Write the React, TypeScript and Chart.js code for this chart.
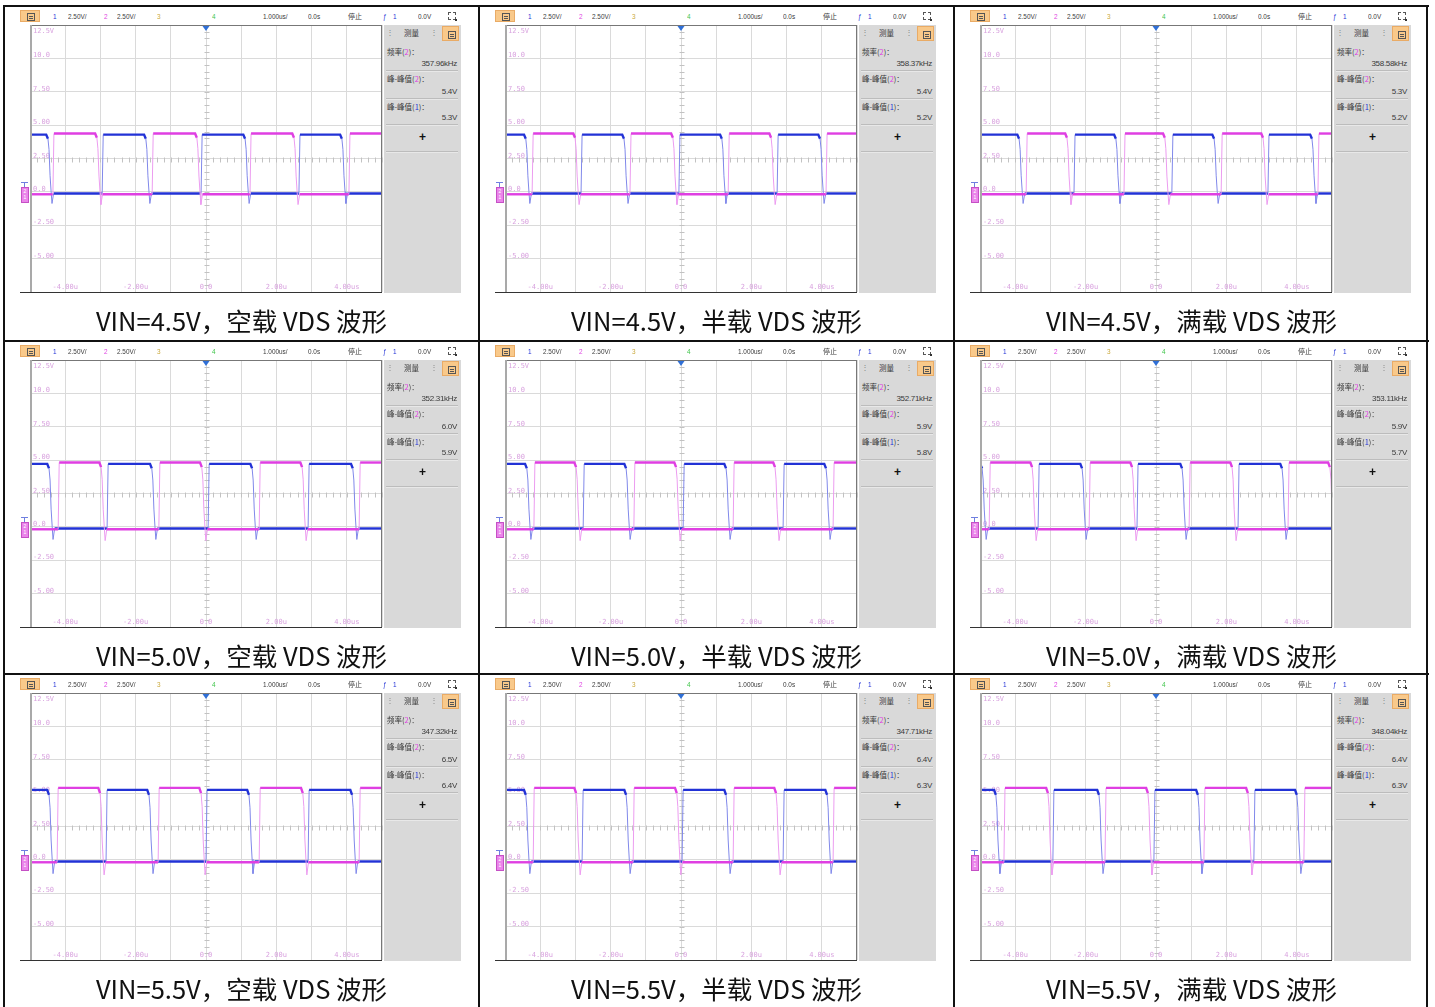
import React, { useEffect, useRef } from "react";
import { Chart, registerables } from "chart.js";

Chart.register(...registerables);

// ---------------- data ----------------
const VIN_LEVELS = ["4.5V", "5.0V", "5.5V"];
const LOAD_NAMES = ["空载", "半载", "满载"];

const FREQ_2 = ["357.96kHz", "358.37kHz", "358.58kHz", "352.31kHz", "352.71kHz", "353.11kHz", "347.32kHz", "347.71kHz", "348.04kHz"];
const VPP_2 = ["5.4V", "5.4V", "5.3V", "6.0V", "5.9V", "5.9V", "6.5V", "6.4V", "6.4V"];
const VPP_1 = ["5.3V", "5.2V", "5.2V", "5.9V", "5.8V", "5.7V", "6.4V", "6.3V", "6.3V"];

const X_TICKS = [-4, -2, 0, 2, 4];
const X_TICK_LABELS = ["-4.00u", "-2.00u", "0.0", "2.00u", "4.00us"];
const Y_TICKS = [12.5, 10, 7.5, 5, 2.5, 0, -2.5, -5];
const Y_TICK_LABELS = ["12.5V", "10.0", "7.50", "5.00", "2.50", "0.0", "-2.50", "-5.00"];

// high / low levels (V) per input voltage row
const HIGH_BLUE = [4.29, 4.72, 5.24];
const HIGH_MAG = [4.37, 4.82, 5.39];
const LOW_BLUE = -0.12;
const LOW_MAG = -0.18;

// channel 1 (blue) high intervals [rise, fall] in us, per panel
const BLUE_ON = [
  [[-5, -4.46], [-2.95, -1.68], [-0.14, 1.14], [2.64, 3.89]],
  [[-5, -4.38], [-2.84, -1.59], [-0.06, 1.19], [2.73, 3.98]],
  [[-5, -3.86], [-2.33, -1.11], [0.45, 1.68], [3.18, 4.46]],
  [[-5, -4.43], [-2.81, -1.51], [0.06, 1.34], [2.9, 4.2]],
  [[-5, -4.35], [-2.78, -1.53], [0.06, 1.31], [2.9, 4.15]],
  [[-5, -4.91], [-3.35, -2.07], [-0.54, 0.77], [2.33, 3.61]],
  [[-5, -4.43], [-2.84, -1.59], [0, 1.25], [2.9, 4.18]],
  [[-5, -4.38], [-2.81, -1.53], [0.03, 1.31], [2.9, 4.18]],
  [[-5, -4.52], [-2.93, -1.59], [-0.06, 1.22], [2.78, 4.03]],
];

// channel 2 (magenta) high intervals [rise, fall] in us, per panel
const MAG_ON = [
  [[-4.35, -3.07], [-1.53, -0.23], [1.25, 2.53], [4.06, 5]],
  [[-4.23, -2.98], [-1.45, -0.2], [1.34, 2.59], [4.12, 5]],
  [[-3.69, -2.5], [-0.91, 0.28], [1.85, 3.07], [4.6, 5]],
  [[-4.2, -2.95], [-1.34, -0.09], [1.51, 2.76], [4.35, 5]],
  [[-4.18, -2.95], [-1.34, -0.11], [1.48, 2.7], [4.32, 5]],
  [[-4.74, -3.49], [-1.9, -0.65], [0.94, 2.19], [3.75, 4.97]],
  [[-4.23, -2.98], [-1.36, -0.11], [1.51, 2.78], [4.35, 5]],
  [[-4.2, -2.95], [-1.36, -0.09], [1.48, 2.73], [4.32, 5]],
  [[-4.32, -3.04], [-1.45, -0.2], [1.36, 2.64], [4.2, 5]],
];

// edge shapes: [time offset us, fraction of swing]
const RISE_SHAPE = [[0, 0], [0.03, 1]];
const FALL_SHAPE = [[-0.08, 1], [-0.03, 0.93], [0, 0.75], [0.03, 0.3], [0.06, 0.03], [0.085, -0.17], [0.13, 0]];

// ---------------- layout / style ----------------
const COL_X = [4, 479, 954];
const ROW_Y = [6, 341, 674];
const V_LINES = [4, 479, 954, 1427];
const H_LINES = [6, 341, 674];

const BLUE = "#2232d6";
const BLUE_LIGHT = "#8088ea";
const MAG = "#df3fe2";
const MAG_LIGHT = "#ec9cf0";
const GRID = "#dadada";
const LABEL_PINK = "#d9a3df";
const TXT = "#3a3a3a";

function buildTrace(segs: number[][], H: number, L: number) {
  const pts: { x: number; y: number }[] = [];
  const sw = H - L;
  pts.push({ x: -5, y: segs[0][0] <= -5 ? H : L });
  for (const [r, f] of segs) {
    if (r > -5) {
      for (const [dt, fr] of RISE_SHAPE) pts.push({ x: r + dt, y: L + fr * sw });
    }
    if (f < 5) {
      for (const [dt, fr] of FALL_SHAPE) pts.push({ x: f + dt, y: L + fr * sw });
    } else {
      pts.push({ x: 5, y: H });
    }
  }
  const last = segs[segs.length - 1];
  if (last[1] < 5) pts.push({ x: 5, y: L });
  return pts;
}

const scopeDecor = {
  id: "scopeDecor",
  beforeDatasetsDraw(chart: any) {
    const { ctx, chartArea: a, scales } = chart;
    const x = scales.x;
    const y = scales.y;
    ctx.save();
    ctx.strokeStyle = "#c2c2c2";
    ctx.lineWidth = 1;
    const cx = Math.round(x.getPixelForValue(0)) + 0.5;
    const cy = Math.round(y.getPixelForValue(2.5)) + 0.5;
    ctx.beginPath();
    for (let v = -7.5; v <= 12.5 + 1e-9; v += 0.5) {
      const py = Math.round(y.getPixelForValue(v)) + 0.5;
      ctx.moveTo(cx - 2, py);
      ctx.lineTo(cx + 3, py);
    }
    for (let t = -5; t <= 5 + 1e-9; t += 0.2) {
      const px = Math.round(x.getPixelForValue(t)) + 0.5;
      ctx.moveTo(px, cy - 2);
      ctx.lineTo(px, cy + 3);
    }
    ctx.stroke();

    ctx.fillStyle = LABEL_PINK;
    ctx.font = '7px "DejaVu Sans Mono"';
    ctx.textAlign = "left";
    ctx.textBaseline = "alphabetic";
    Y_TICKS.forEach((v, i) => {
      const py = y.getPixelForValue(v);
      const yy = i === 0 ? a.top + 8 : py - 1;
      ctx.fillText(Y_TICK_LABELS[i], a.left + 3, yy);
    });
    ctx.textAlign = "center";
    X_TICKS.forEach((t, i) => {
      ctx.fillText(X_TICK_LABELS[i], x.getPixelForValue(t), a.bottom - 3);
    });
    ctx.restore();
  },
  afterDraw(chart: any) {
    const { ctx, chartArea: a, scales } = chart;
    ctx.save();
    ctx.lineWidth = 1;
    ctx.strokeStyle = "#777";
    ctx.beginPath();
    ctx.moveTo(a.left, a.top + 0.5);
    ctx.lineTo(a.right, a.top + 0.5);
    ctx.moveTo(a.right - 0.5, a.top);
    ctx.lineTo(a.right - 0.5, a.bottom);
    ctx.stroke();
    ctx.strokeStyle = "#a9a9a9";
    ctx.lineWidth = 2;
    ctx.beginPath();
    ctx.moveTo(a.left + 1, a.top);
    ctx.lineTo(a.left + 1, a.bottom);
    ctx.stroke();
    // trigger position marker
    const cx = scales.x.getPixelForValue(0);
    ctx.fillStyle = "#2f6fd6";
    ctx.beginPath();
    ctx.moveTo(cx - 3.5, a.top + 1);
    ctx.lineTo(cx + 3.5, a.top + 1);
    ctx.lineTo(cx, a.top + 6);
    ctx.closePath();
    ctx.fill();
    ctx.restore();
  },
};

const steep = (c: any) => Math.abs(c.p1.x - c.p0.x) < 4 && Math.abs(c.p1.y - c.p0.y) > 6;

function ScopeChart({ idx }: { idx: number }) {
  const ref = useRef<HTMLCanvasElement>(null);
  useEffect(() => {
    const row = Math.floor(idx / 3);
    const blue = buildTrace(BLUE_ON[idx], HIGH_BLUE[row], LOW_BLUE);
    const mag = buildTrace(MAG_ON[idx], HIGH_MAG[row], LOW_MAG);
    const chart = new Chart(ref.current as HTMLCanvasElement, {
      type: "line",
      data: {
        datasets: [
          {
            data: mag,
            borderColor: MAG,
            borderWidth: 2.4,
            pointRadius: 0,
            tension: 0,
            segment: {
              borderColor: (c: any) => (steep(c) ? MAG_LIGHT : undefined),
              borderWidth: (c: any) => (steep(c) ? 1 : undefined),
            },
          },
          {
            data: blue,
            borderColor: BLUE,
            borderWidth: 2.4,
            pointRadius: 0,
            tension: 0,
            segment: {
              borderColor: (c: any) => (steep(c) ? BLUE_LIGHT : undefined),
              borderWidth: (c: any) => (steep(c) ? 1 : undefined),
            },
          },
        ],
      } as any,
      options: {
        animation: false,
        responsive: false,
        maintainAspectRatio: false,
        events: [],
        layout: { padding: 2 },
        plugins: { legend: { display: false }, tooltip: { enabled: false } },
        scales: {
          x: {
            type: "linear",
            min: -5,
            max: 5,
            ticks: { display: false, stepSize: 1 },
            grid: { color: GRID, drawTicks: false },
            border: { display: false },
            afterFit: (s: any) => {
              s.height = 0;
            },
          },
          y: {
            type: "linear",
            min: -7.5,
            max: 12.5,
            ticks: { display: false, stepSize: 2.5 },
            grid: { color: GRID, drawTicks: false },
            border: { display: false },
            afterFit: (s: any) => {
              s.width = 0;
            },
          },
        },
      } as any,
      plugins: [scopeDecor],
    });
    return () => chart.destroy();
  }, [idx]);
  return (
    <canvas
      ref={ref}
      width={356}
      height={271}
      style={{ position: "absolute", left: 8, top: 13, width: 356, height: 271 }}
    />
  );
}

const TOOLBAR: [number, string, string][] = [
  [33, "1", BLUE],
  [48, "2.50V/", TXT],
  [84, "2", MAG],
  [97, "2.50V/", TXT],
  [137, "3", "#c9a83a"],
  [192, "4", "#3fc54a"],
  [243, "1.000us/", TXT],
  [288, "0.0s", TXT],
  [363, "ƒ", BLUE],
  [373, "1", BLUE],
  [398, "0.0V", TXT],
];

function MenuIcon({ left, top, w, h }: { left: number; top: number; w: number; h: number }) {
  return (
    <div
      style={{
        position: "absolute",
        left,
        top,
        width: w,
        height: h,
        background: "#f9c98a",
        border: "1px solid #e9ab66",
        boxSizing: "border-box",
      }}
    >
      <div
        style={{
          position: "absolute",
          left: Math.round(w / 2) - 4,
          top: Math.round(h / 2) - 4,
          width: 8,
          height: 8,
          border: "1px solid #555",
          boxSizing: "border-box",
        }}
      >
        <div style={{ position: "absolute", left: 1, top: 1.5, width: 4, height: 1, background: "#555" }} />
        <div style={{ position: "absolute", left: 1, top: 3.5, width: 4, height: 1, background: "#555" }} />
      </div>
    </div>
  );
}

function MeasureLabel({ top, name, ch, chColor }: { top: number; name: string; ch: string; chColor: string }) {
  return (
    <div
      style={{
        position: "absolute",
        left: 3,
        top: top - 5,
        fontSize: 7.5,
        lineHeight: "10px",
        color: TXT,
        fontFamily: '"Noto Sans CJK SC", sans-serif',
        whiteSpace: "nowrap",
      }}
    >
      {name}
      <span style={{ color: chColor }}>{ch}</span>
      <span>)：</span>
    </div>
  );
}

function MeasureValue({ top, text }: { top: number; text: string }) {
  return (
    <div
      style={{
        position: "absolute",
        right: 4,
        top: top - 5,
        fontSize: 8,
        lineHeight: "10px",
        color: TXT,
        letterSpacing: -0.3,
        whiteSpace: "nowrap",
      }}
    >
      {text}
    </div>
  );
}

function Divider({ top }: { top: number }) {
  return (
    <div style={{ position: "absolute", left: 2, width: 72, top, height: 1, background: "#bcbcbc", borderBottom: "1px solid #e8e8e8" }} />
  );
}

function ScopePicture({ idx, left, top }: { idx: number; left: number; top: number }) {
  return (
    <div style={{ position: "absolute", left, top, width: 442, height: 284 }}>
      <MenuIcon left={0} top={0} w={20} h={12} />
      {TOOLBAR.map(([x, t, c], i) => (
        <div
          key={i}
          style={{
            position: "absolute",
            left: x,
            top: 1,
            fontSize: 8,
            lineHeight: "11px",
            color: c,
            transform: "scaleX(0.8)",
            transformOrigin: "left center",
            whiteSpace: "nowrap",
          }}
        >
          {t}
        </div>
      ))}
      <div
        style={{
          position: "absolute",
          left: 328,
          top: 1,
          fontSize: 7,
          lineHeight: "11px",
          color: TXT,
          fontFamily: '"Noto Sans CJK SC", sans-serif',
        }}
      >
        停止
      </div>
      <div style={{ position: "absolute", left: 428, top: 2, width: 8, height: 8, border: "1px dashed #555", boxSizing: "border-box" }} />
      <div style={{ position: "absolute", left: 435, top: 9, width: 2, height: 2, background: "#333" }} />

      {/* ground marker */}
      <div style={{ position: "absolute", left: 1, top: 172, width: 7, height: 1, background: "#6f7fe0" }} />
      <div style={{ position: "absolute", left: 4, top: 172, width: 1, height: 6, background: "#6f7fe0" }} />
      <div
        style={{
          position: "absolute",
          left: 1,
          top: 177,
          width: 8,
          height: 16,
          background: "#ea84ea",
          border: "1px solid #c550c5",
          boxSizing: "border-box",
          fontSize: 5,
          lineHeight: "6px",
          color: "#fff",
          textAlign: "center",
        }}
      >
        2
        <br />1
      </div>

      <ScopeChart idx={idx} />
      <div style={{ position: "absolute", left: 0, top: 282, width: 362, height: 1, background: "#333" }} />

      {/* measurement panel */}
      <div style={{ position: "absolute", left: 364, top: 15, width: 77, height: 268, background: "#d9d9d9" }}>
        <div style={{ position: "absolute", left: 2, top: 3, fontSize: 8, lineHeight: "10px", color: "#888" }}>⋮</div>
        <div
          style={{
            position: "absolute",
            left: 20,
            top: 3,
            width: 16,
            fontSize: 7.5,
            lineHeight: "10px",
            color: TXT,
            fontFamily: '"Noto Sans CJK SC", sans-serif',
          }}
        >
          测量
        </div>
        <div style={{ position: "absolute", left: 46, top: 3, fontSize: 8, lineHeight: "10px", color: "#888" }}>⋮</div>
        <MenuIcon left={58} top={1} w={17} h={15} />
        <MeasureLabel top={27} name="频率(" ch="2" chColor={MAG} />
        <MeasureValue top={39} text={FREQ_2[idx]} />
        <Divider top={45} />
        <MeasureLabel top={54} name="峰-峰值(" ch="2" chColor={MAG} />
        <MeasureValue top={67} text={VPP_2[idx]} />
        <Divider top={73} />
        <MeasureLabel top={82} name="峰-峰值(" ch="1" chColor={BLUE} />
        <MeasureValue top={93} text={VPP_1[idx]} />
        <Divider top={99} />
        <div
          style={{
            position: "absolute",
            left: 0,
            width: 77,
            top: 105,
            textAlign: "center",
            fontSize: 12,
            fontWeight: 700,
            lineHeight: "14px",
            color: "#111",
          }}
        >
          +
        </div>
        <Divider top={126} />
      </div>
    </div>
  );
}

export default function App() {
  const cells: React.ReactNode[] = [];
  for (let r = 0; r < 3; r++) {
    for (let c = 0; c < 3; c++) {
      const idx = r * 3 + c;
      const cl = COL_X[c];
      const ct = ROW_Y[r];
      cells.push(
        <React.Fragment key={idx}>
          <ScopePicture idx={idx} left={cl + 16} top={ct + 4} />
          <div
            style={{
              position: "absolute",
              left: cl,
              top: ct + 298,
              width: 475,
              height: 32,
              lineHeight: "32px",
              textAlign: "center",
              fontSize: 25.5,
              color: "#111",
              fontFamily: '"Noto Sans CJK SC", sans-serif',
              whiteSpace: "nowrap",
            }}
          >
            {`VIN=${VIN_LEVELS[r]}，${LOAD_NAMES[c]} VDS 波形`}
          </div>
        </React.Fragment>
      );
    }
  }
  return (
    <div
      style={{
        position: "absolute",
        left: 0,
        top: 0,
        width: 1435,
        height: 1007,
        background: "#fff",
        overflow: "hidden",
        fontFamily: '"Liberation Sans", Arial, sans-serif',
      }}
    >
      {V_LINES.map((x) => (
        <div key={"v" + x} style={{ position: "absolute", left: x - 1, top: 5, width: 2, height: 1002, background: "#111" }} />
      ))}
      {H_LINES.map((y) => (
        <div key={"h" + y} style={{ position: "absolute", left: 3, top: y - 1, width: 1426, height: 2, background: "#111" }} />
      ))}
      {cells}
    </div>
  );
}
